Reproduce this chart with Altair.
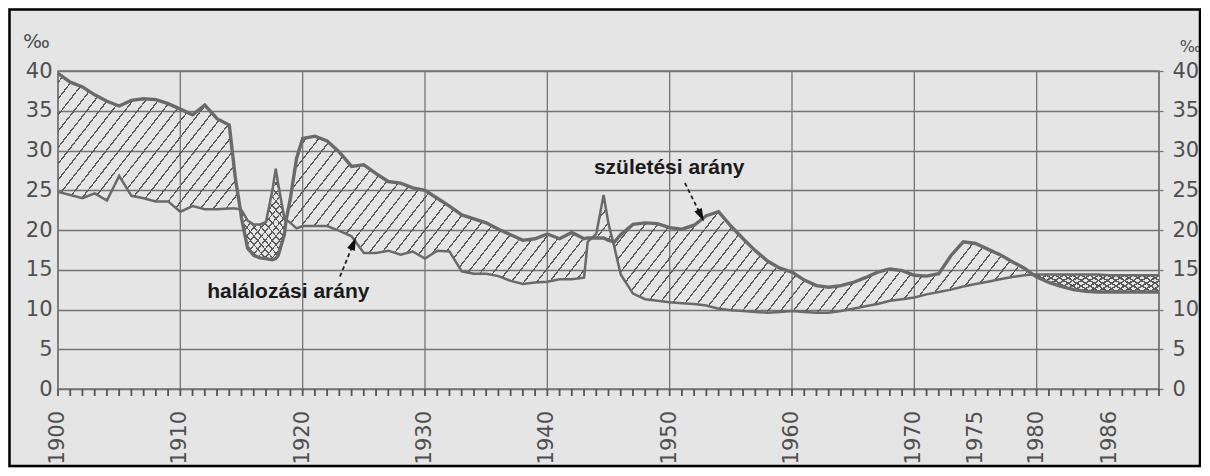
import math
import altair as alt
import pandas as pd

# ---- data (births and deaths per 1000, Hungary) ----
YEARS = [1900, 1901, 1902, 1903, 1904, 1905, 1906, 1907, 1908, 1909,
         1910, 1911, 1912, 1913, 1914, 1914.5, 1914.9, 1915, 1915.5, 1916,
         1916.5, 1917, 1917.5, 1917.8, 1918, 1918.5, 1918.65, 1919, 1919.5, 1920,
         1921, 1922, 1923, 1924, 1925, 1926, 1927, 1928, 1929, 1930,
         1931, 1932, 1933, 1934, 1935, 1936, 1937, 1938, 1939, 1940,
         1941, 1942, 1943, 1943.3, 1944, 1944.6, 1945, 1945.5, 1946, 1947,
         1948, 1949, 1950, 1951, 1952, 1953, 1954, 1955, 1956, 1957,
         1958, 1959, 1960, 1961, 1962, 1963, 1964, 1965, 1966, 1967,
         1968, 1969, 1970, 1971, 1972, 1973, 1974, 1975, 1976, 1977,
         1978, 1979, 1979.7, 1980, 1981, 1982, 1983, 1984, 1985, 1986,
         1987, 1988, 1989, 1990]
BIRTH = [39.7, 38.6, 38.0, 37.0, 36.2, 35.6, 36.3, 36.5, 36.4, 35.9,
         35.2, 34.5, 35.7, 34.0, 33.2, 26.5, 22.6, 21.5, 17.7, 16.8,
         16.5, 16.4, 16.25, 16.4, 16.8, 19.4, 21.3, 24.0, 29.0, 31.5,
         31.8, 31.2, 29.8, 28.0, 28.2, 27.1, 26.1, 25.9, 25.3, 25.0,
         24.0, 23.0, 21.9, 21.4, 20.9, 20.1, 19.4, 18.7, 18.9, 19.5,
         18.9, 19.7, 18.9, 19.0, 19.0, 19.0, 18.7, 18.5, 19.4, 20.7,
         20.9, 20.8, 20.3, 20.1, 20.6, 21.8, 22.3, 20.5, 18.9, 17.4,
         16.1, 15.2, 14.7, 13.7, 13.0, 12.8, 13.0, 13.4, 14.0, 14.7,
         15.1, 14.9, 14.3, 14.2, 14.5, 16.8, 18.5, 18.3, 17.6, 16.9,
         16.0, 15.2, 14.4, 14.1, 13.4, 12.9, 12.5, 12.3, 12.2, 12.2,
         12.2, 12.2, 12.2, 12.2]
DEATH = [24.8, 24.4, 24.0, 24.6, 23.7, 26.8, 24.3, 24.0, 23.6, 23.6,
         22.3, 23.0, 22.6, 22.6, 22.7, 22.7, 22.6, 22.5, 21.2, 20.7,
         20.7, 21.0, 24.8, 27.7, 25.8, 21.5, 21.3, 20.9, 20.2, 20.5,
         20.5, 20.5, 19.9, 19.2, 17.1, 17.1, 17.4, 16.9, 17.3, 16.4,
         17.4, 17.3, 14.8, 14.5, 14.5, 14.2, 13.6, 13.2, 13.4, 13.5,
         13.8, 13.8, 14.0, 18.5, 19.5, 24.4, 20.8, 17.7, 14.4, 12.0,
         11.3, 11.1, 10.9, 10.8, 10.7, 10.5, 10.1, 9.9, 9.8, 9.7,
         9.6, 9.7, 9.8, 9.7, 9.6, 9.6, 9.8, 10.1, 10.4, 10.7,
         11.1, 11.3, 11.5, 11.9, 12.2, 12.5, 12.9, 13.2, 13.5, 13.8,
         14.1, 14.3, 14.4, 14.4, 14.4, 14.4, 14.4, 14.4, 14.4, 14.3,
         14.3, 14.3, 14.3, 14.3]

# spans where the death rate is above the birth rate (cross-hatched)
CROSS_RANGES = [(1914.9, 1918.65), (1979.7, 1990)]

DECADES = [1900, 1910, 1920, 1930, 1940, 1950, 1960, 1970, 1980, 1990]
TICK_YEARS = list(range(1900, 1991))
LABEL_YEARS = [1900, 1910, 1920, 1930, 1940, 1950, 1960, 1970, 1975, 1980, 1986]
Y_TICKS = [0, 5, 10, 15, 20, 25, 30, 35, 40]

ANN_TEXT = ["születési arány", "halálozási arány"]
ANN_YEAR = [1949.96, 1918.83]
ANN_VALUE = [27.0, 11.46]

ARROW_TAIL_YEAR = [1951.25, 1923.05]
ARROW_TAIL_VALUE = [25.91, 14.15]
ARROW_HEAD_YEAR = [1952.55, 1924.14]
ARROW_HEAD_VALUE = [21.85, 18.27]
ARROW_ANGLE = [153.4, 22.3]

# ---- layout / style ----
W, H = 1101, 318
X_DOMAIN = [1900, 1990]
Y_DOMAIN = [0, 40]
PX_YEAR = W / (X_DOMAIN[1] - X_DOMAIN[0])
PX_UNIT = H / (Y_DOMAIN[1] - Y_DOMAIN[0])
TICK_LEN = 7
LABEL_GAP = 22

BG = "#e5e5e5"
GRID = "#747474"
LINE = "#6a6a6a"
HATCH = "#5a5a5a"
LABEL = "#4f4f4f"
CLEAR = "rgba(0,0,0,0)"

df = pd.DataFrame({"year": YEARS, "birth": BIRTH, "death": DEATH})


def hatch(sub, theta_deg, spacing, lw, line_color, gap_color, direction):
    """Striped linear gradient (bbox units) giving diagonal hatching."""
    bw = (sub["year"].max() - sub["year"].min()) * PX_YEAR
    vals = list(sub["birth"]) + list(sub["death"])
    bh = (max(vals) - min(vals)) * PX_UNIT
    th = math.radians(theta_deg)
    u = math.sin(th) * bw
    v = math.cos(th) * bh
    L = u + v
    k = L / (u * u + v * v)
    a, b = k * u, k * v
    if direction == "up":
        x1, y1, x2, y2 = 0, 0, a, b
    else:
        x1, y1, x2, y2 = 0, 1, a, 1 - b
    stops = [{"offset": 0, "color": gap_color}]
    pos = spacing / 2
    while pos + lw < L:
        o0 = round(pos / L, 5)
        o1 = round((pos + lw) / L, 5)
        stops += [{"offset": o0, "color": gap_color},
                  {"offset": o0, "color": line_color},
                  {"offset": o1, "color": line_color},
                  {"offset": o1, "color": gap_color}]
        pos += spacing
    stops.append({"offset": 1, "color": gap_color})
    return {"gradient": "linear", "x1": x1, "y1": y1, "x2": x2, "y2": y2,
            "stops": stops}


xscale = alt.Scale(domain=X_DOMAIN, nice=False, zero=False)
yscale = alt.Scale(domain=Y_DOMAIN, nice=False, zero=True)

left_axis = alt.Axis(
    values=Y_TICKS, orient="left", grid=True, gridColor=GRID, gridWidth=1.3,
    domain=False, ticks=False, labelPadding=6,
    labelFont="DejaVu Sans", labelFontSize=21, labelColor=LABEL,
    title="‰", titleAngle=0, titleX=-22, titleY=-24, titleAlign="center",
    titleBaseline="alphabetic", titleFont="DejaVu Sans", titleFontSize=20,
    titleFontWeight="normal", titleColor=LABEL,
)

right_axis = alt.Axis(
    values=Y_TICKS, orient="right", grid=False, domain=False,
    tickSize=4, tickColor=GRID, tickWidth=1.2, labelPadding=9,
    labelFont="DejaVu Sans", labelFontSize=21, labelColor=LABEL,
    title="‰", titleAngle=0, titleX=31, titleY=-20, titleAlign="center",
    titleBaseline="alphabetic", titleFont="DejaVu Sans", titleFontSize=16,
    titleFontWeight="normal", titleColor=LABEL,
)


def xenc(field="year"):
    return alt.X(f"{field}:Q", scale=xscale, axis=None)


def yenc(field, axis=None):
    return alt.Y(f"{field}:Q", scale=yscale, axis=axis)


layers = []

# decade grid lines
dec = pd.DataFrame({"year": DECADES})
layers.append(
    alt.Chart(dec).mark_rule(color=GRID, strokeWidth=1.3).encode(x=xenc())
)

# yearly tick comb below the time axis
ticks = pd.DataFrame({"year": TICK_YEARS})
layers.append(
    alt.Chart(ticks).mark_rule(color="#555555", strokeWidth=1.8).encode(
        x=xenc(), y=alt.value(H), y2=alt.value(H + TICK_LEN))
)

# rotated year labels
labs = pd.DataFrame({"year": LABEL_YEARS,
                     "lab": [str(y) for y in LABEL_YEARS]})
layers.append(
    alt.Chart(labs).mark_text(angle=270, align="right", baseline="middle",
                              font="DejaVu Sans", fontSize=21,
                              color=LABEL).encode(
        x=xenc(), y=alt.value(H + LABEL_GAP), text="lab:N")
)

# single-hatched band between the two rates
main_fill = hatch(df, 52, 10.0, 1.3, HATCH, CLEAR, "up")
layers.append(
    alt.Chart(df).mark_area(fill=main_fill, opacity=1, strokeWidth=0).encode(
        x=xenc(), y=yenc("birth", left_axis), y2="death:Q")
)

# cross-hatched spans (death > birth)
cross_styles = [(50, 5.6, 1.2), (32, 4.6, 1.5)]
for (lo, hi), (ang, sp, lw) in zip(CROSS_RANGES, cross_styles):
    sub = df[(df["year"] >= lo) & (df["year"] <= hi)].reset_index(drop=True)
    f1 = hatch(sub, ang, sp, lw, HATCH, BG, "up")
    f2 = hatch(sub, ang, sp, lw, HATCH, CLEAR, "down")
    for f in (f1, f2):
        layers.append(
            alt.Chart(sub).mark_area(fill=f, opacity=1, strokeWidth=0).encode(
                x=xenc(), y=yenc("birth"), y2="death:Q")
        )

# the two rate lines
layers.append(
    alt.Chart(df).mark_line(color=LINE, strokeWidth=2.5).encode(
        x=xenc(), y=yenc("death", right_axis))
)
layers.append(
    alt.Chart(df).mark_line(color=LINE, strokeWidth=3.4).encode(
        x=xenc(), y=yenc("birth"))
)

# annotation arrows and labels
arrows = pd.DataFrame({"year": ARROW_TAIL_YEAR, "tv": ARROW_TAIL_VALUE,
                       "hy": ARROW_HEAD_YEAR, "hv": ARROW_HEAD_VALUE,
                       "ang": ARROW_ANGLE})
layers.append(
    alt.Chart(arrows).mark_rule(color="#1e1e1e", strokeWidth=1.8,
                                strokeDash=[4, 3]).encode(
        x=xenc(), y=yenc("tv"), x2="hy:Q", y2="hv:Q")
)
heads = pd.DataFrame({"year": ARROW_HEAD_YEAR, "hv": ARROW_HEAD_VALUE,
                      "ang": ARROW_ANGLE})
layers.append(
    alt.Chart(heads).mark_point(shape="M0,-1L0.6,0.9L-0.6,0.9Z", filled=True,
                                size=190, color="#111111", opacity=1).encode(
        x=xenc(), y=yenc("hv"), angle=alt.Angle("ang:Q", scale=None))
)
ann = pd.DataFrame({"label": ANN_TEXT, "year": ANN_YEAR, "value": ANN_VALUE})
layers.append(
    alt.Chart(ann).mark_text(font="Liberation Sans", fontSize=21,
                             fontWeight="bold", color="#1a1a1a",
                             align="center", baseline="alphabetic").encode(
        x=xenc(), y=yenc("value"), text="label:N")
)

# outer black frame of the figure
layers.append(
    alt.Chart(pd.DataFrame({"k": [0]})).mark_rect(
        fillOpacity=0, stroke="black", strokeWidth=2.5).encode(
        x=alt.value(-48.5), x2=alt.value(1142), y=alt.value(-61.5),
        y2=alt.value(395))
)

chart = (
    alt.layer(*layers)
    .resolve_axis(y="independent")
    .properties(
        width=W, height=H,
        autosize=alt.AutoSizeParams(type="none"),
        padding={"left": 50, "top": 63, "right": 42, "bottom": 79},
        background=BG,
    )
    .configure_view(stroke=GRID, strokeWidth=1.5)
)

chart.save("out.html", embed_options={"renderer": "svg", "actions": False})
